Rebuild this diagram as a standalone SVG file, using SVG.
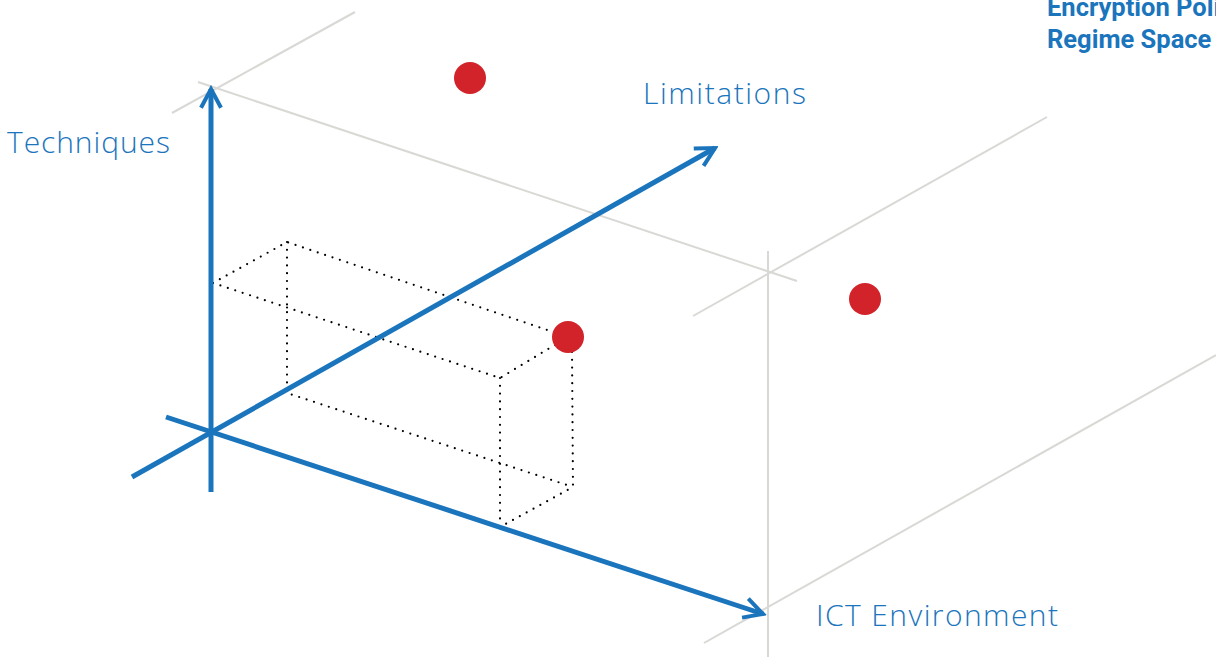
<svg xmlns="http://www.w3.org/2000/svg" width="1216" height="657" viewBox="0 0 1216 657">
  <style>
    .grid { stroke: #d8d8d5; stroke-width: 2; fill: none; }
    .axis { stroke: #1b75bc; stroke-width: 5; fill: none; }
    .dot { stroke: #000; stroke-width: 2.2; stroke-dasharray: 0 7.8; stroke-linecap: round; fill: none; }
    .pt { fill: #d2232a; }
    .lbl { font-family: "Open Sans", Lato, sans-serif; font-weight: 300; font-size: 30px; fill: #1b75bc; }
    .ttl { font-family: "Roboto", "Liberation Sans", sans-serif; font-weight: 700; font-size: 25.5px; fill: #1b75bc; }
  </style>
  <defs>
    <marker id="chev" viewBox="0 0 10 10" refX="8.5" refY="5" markerWidth="5" markerHeight="5" orient="auto" markerUnits="strokeWidth">
      <path d="M1,1 L8.5,5 L1,9" fill="none" stroke="#1b75bc" stroke-width="1.6" stroke-linecap="butt"/>
    </marker>
  </defs>

  <!-- background reference planes -->
  <g id="grid">
    <line class="grid" x1="172" y1="113" x2="355" y2="12"/>
    <line class="grid" x1="198" y1="82" x2="797" y2="281"/>
    <line class="grid" x1="693" y1="316" x2="1047" y2="117"/>
    <line class="grid" x1="768" y1="251" x2="768" y2="657"/>
    <line class="grid" x1="704" y1="643" x2="1216" y2="355"/>
  </g>

  <!-- dotted projection box -->
  <g id="box">
    <path class="dot" d="M213,283 L287,242 L568,337"/>
    <path class="dot" d="M213,283 L500,378 L568,337"/>
    <path class="dot" d="M287,242 L287,393 L573,487"/>
    <path class="dot" d="M500,378 L500,527 L573,487"/>
    <path class="dot" d="M572,352 L573,487"/>
  </g>

  <!-- axes -->
  <g id="connectors">
    <line class="axis" x1="211" y1="492" x2="211" y2="89" marker-end="url(#chev)"/>
    <line class="axis" x1="132" y1="477" x2="715" y2="148" marker-end="url(#chev)"/>
    <line class="axis" x1="166" y1="417" x2="763" y2="614" marker-end="url(#chev)"/>
  </g>

  <!-- data points -->
  <g id="point-1"><circle class="pt" cx="470" cy="78" r="16"/></g>
  <g id="point-2"><circle class="pt" cx="568" cy="337" r="16"/></g>
  <g id="point-3"><circle class="pt" cx="865" cy="299" r="16"/></g>

  <!-- labels -->
  <g id="label-techniques"><text class="lbl" x="7" y="153" textLength="163" lengthAdjust="spacing">Techniques</text></g>
  <g id="label-limitations"><text class="lbl" x="643" y="104" textLength="163" lengthAdjust="spacing">Limitations</text></g>
  <g id="label-ict"><text class="lbl" x="816" y="626" textLength="242" lengthAdjust="spacing">ICT Environment</text></g>
  <g id="title">
    <text class="ttl" x="1047" y="16">Encryption Policy</text>
    <text class="ttl" x="1047" y="48">Regime Space</text>
  </g>
</svg>
